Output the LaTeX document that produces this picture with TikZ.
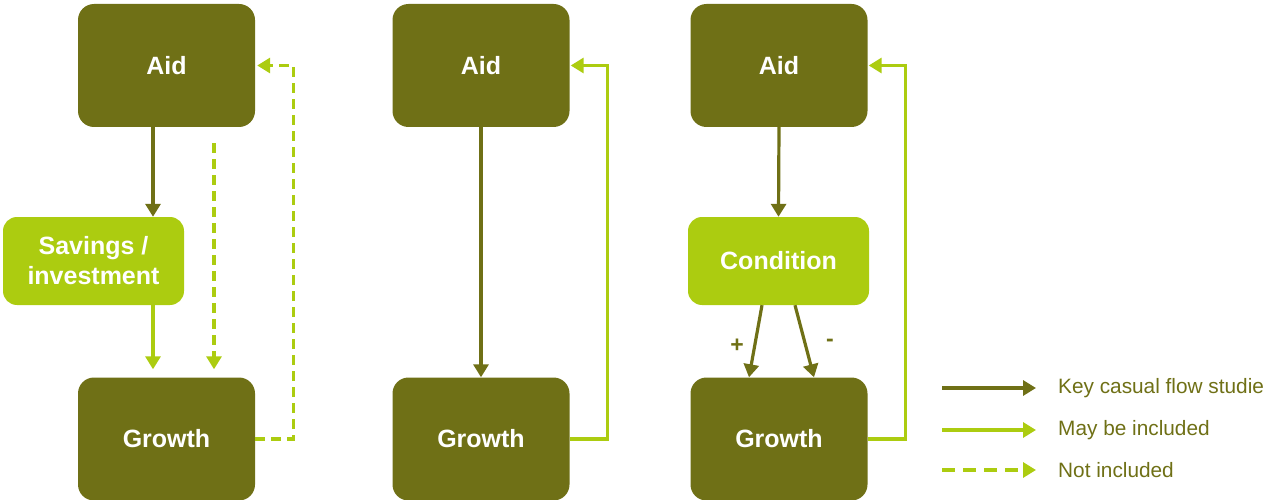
\documentclass[tikz,border=0pt]{standalone}
\usepackage{fontspec}
\setmainfont{Liberation Sans}
\usetikzlibrary{arrows.meta,calc}
\definecolor{olive}{RGB}{111,112,22}
\definecolor{lime}{RGB}{172,204,16}
\tikzset{
  bigbox/.style={draw=none,fill=olive,rounded corners=16pt,minimum width=177pt,minimum height=123pt,inner sep=0pt,text=white,font=\fontsize{25}{30}\selectfont\bfseries,align=center},
  midbox/.style={draw=none,fill=lime,rounded corners=14pt,minimum width=181pt,minimum height=88pt,inner sep=0pt,text=white,font=\fontsize{25}{30}\selectfont\bfseries,align=center},
  tip/.style={-{Triangle[length=13pt,width=15pt]}},
  keyflow/.style={tip,draw=olive,line width=3.2pt},
  maybe/.style={tip,draw=lime,line width=3.2pt},
  notinc/.style={tip,draw=lime,line width=3.2pt,dash pattern=on 10pt off 6pt},
  legtext/.style={anchor=west,text=olive,font=\fontsize{20.8}{25}\selectfont,inner sep=0pt},
  sign/.style={text=olive,font=\fontsize{23}{26}\selectfont\bfseries,inner sep=0pt}
}
\begin{document}
\begin{tikzpicture}[x=1pt,y=-1pt]
\useasboundingbox (0,0) rectangle (1267,500);
% left
\node[bigbox] (aid1) at (166.5,65.5) {Aid};
\node[midbox] (sav) at (93.5,261) {Savings /\\investment};
\node[bigbox] (gr1) at (166.5,439) {Growth};
\draw[keyflow] ([xshift=-13.5pt]aid1.south) -- ([xshift=59.5pt]sav.north);
\draw[maybe,shorten >=8pt] ([xshift=59.5pt]sav.south) -- ([xshift=-13.5pt]gr1.north);
\draw[notinc,shorten >=8pt] ([xshift=47.5pt,yshift=-16pt]aid1.south) -- ([xshift=47.5pt]gr1.north);
\draw[notinc,shorten >=2pt] (gr1.east) -- ++(38,0) |- (aid1.east);
% middle
\node[bigbox] (aid2) at (481,65.5) {Aid};
\node[bigbox] (gr2) at (481,439) {Growth};
\draw[keyflow] (aid2.south) -- (gr2.north);
\draw[maybe,shorten >=1pt] (gr2.east) -- ++(38,0) |- (aid2.east);
% right
\node[bigbox] (aid3) at (779,65.5) {Aid};
\node[midbox] (cond) at (778.5,261) {Condition};
\node[bigbox] (gr3) at (779,439) {Growth};
\draw[keyflow] (aid3.south) -- (cond.north);
\draw[keyflow] ([xshift=-16.5pt]cond.south) -- ([xshift=-30pt]gr3.north);
\draw[keyflow] ([xshift=16.5pt]cond.south) -- ([xshift=35pt]gr3.north);
\node[sign] (plus) at (737,346) {+};
\node[sign] (minus) at (830,343) {-};
\draw[maybe,shorten >=1pt] (gr3.east) -- ++(38,0) |- (aid3.east);
% legend
\coordinate (l1a) at (942,388); \coordinate (l1b) at (1036,388);
\coordinate (l2a) at (942,430); \coordinate (l2b) at (1036,430);
\coordinate (l3a) at (942,470); \coordinate (l3b) at (1036,470);
\draw[keyflow] (l1a) -- (l1b);
\draw[maybe] (l2a) -- (l2b);
\draw[notinc,dash pattern=on 13pt off 8pt] (l3a) -- (l3b);
\node[legtext] (t1) at (1058,388) {Key casual flow studie};
\node[legtext] (t2) at (1058,430) {May be included};
\node[legtext] (t3) at (1058,470) {Not included};
\end{tikzpicture}
\end{document}
